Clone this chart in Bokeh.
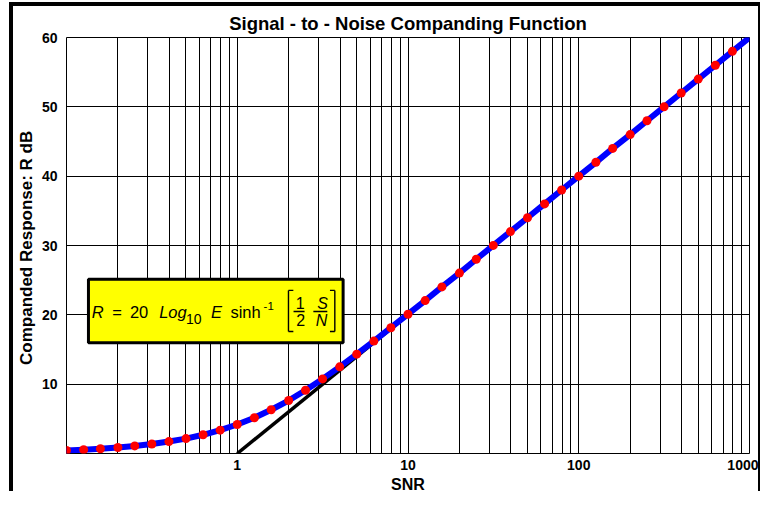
from bokeh.plotting import figure
from bokeh.models import Range1d, FixedTicker, Label, BoxAnnotation, Arrow
from bokeh.embed import file_html
from bokeh.resources import INLINE

# ---- data ----
SNR = [0.1, 0.126, 0.158, 0.2, 0.251, 0.316, 0.398, 0.501, 0.631, 0.794,
       1, 1.26, 1.58, 2.0, 2.51, 3.16, 3.98, 5.01, 6.31, 7.94,
       10, 12.6, 15.8, 20.0, 25.1, 31.6, 39.8, 50.1, 63.1, 79.4,
       100, 126, 158, 200, 251, 316, 398, 501, 631, 794, 1000]
R_DB = [0.43, 0.55, 0.69, 0.87, 1.09, 1.37, 1.72, 2.15, 2.70, 3.37,
        4.18, 5.16, 6.31, 7.64, 9.13, 10.76, 12.50, 14.33, 16.21, 18.14,
        20.09, 22.05, 24.03, 26.02, 28.01, 30.01, 32.01, 34.00, 36.00, 38.00,
        40.00, 42.00, 44.00, 46.00, 48.00, 50.00, 52.00, 54.00, 56.00, 58.00, 60.00]
DOT_SNR = SNR[:-1]
DOT_DB = R_DB[:-1]
ASYM_SNR = [1, 1000]
ASYM_DB = [0, 60]

XTICKS = [0.1, 1, 10, 100, 1000]
XTICK_LABELS = ["", "1", "10", "100", "1000"]
YTICKS = [0, 10, 20, 30, 40, 50, 60]
YTICK_LABELS = ["", "10", "20", "30", "40", "50", "60"]
X_MINOR = [m * 10 ** e for e in range(-1, 3) for m in range(2, 10)]

FONT = "Liberation Sans"

p = figure(width=751, height=489, x_axis_type="log",
           x_range=Range1d(0.1, 1000), y_range=Range1d(0, 60),
           output_backend="svg", toolbar_location=None,
           min_border_left=52, min_border_right=15,
           min_border_top=30, min_border_bottom=40)
p.background_fill_color = "white"
p.border_fill_color = "white"
p.outline_line_color = "black"
p.outline_line_width = 1
p.styles = {"margin-left": "9px", "margin-top": "2px",
            "border-top": "4px solid black", "border-left": "4px solid black",
            "border-right": "2px solid black"}

# title
p.title.text = "Signal - to - Noise Companding Function"
p.title.align = "center"
p.title.text_font = FONT
p.title.text_font_size = "18.5px"
p.title.text_font_style = "bold"
p.title.text_color = "black"
p.title.standoff = 8

# axes
p.xaxis.ticker = FixedTicker(ticks=XTICKS)
p.xaxis.major_label_overrides = {t: s for t, s in zip(XTICKS, XTICK_LABELS)}
p.yaxis.ticker = FixedTicker(ticks=YTICKS)
p.yaxis.major_label_overrides = {t: s for t, s in zip(YTICKS, YTICK_LABELS)}
for ax in (p.xaxis, p.yaxis):
    ax.axis_line_color = None
    ax.major_tick_line_color = None
    ax.minor_tick_line_color = None
    ax.major_tick_out = 0
    ax.major_tick_in = 0
    ax.minor_tick_out = 0
    ax.minor_tick_in = 0
    ax.major_label_text_font = FONT
    ax.major_label_text_font_size = "14px"
    ax.major_label_text_font_style = "bold"
    ax.major_label_text_color = "black"
    ax.axis_label_text_font = FONT
    ax.axis_label_text_font_style = "bold"
    ax.axis_label_text_color = "black"
p.xaxis.major_label_standoff = 6
p.yaxis.major_label_standoff = 9
p.xaxis.axis_label = "SNR"
p.xaxis.axis_label_text_font_size = "16px"
p.xaxis.axis_label_standoff = 3
p.yaxis.axis_label = "Companded Response:  R dB"
p.yaxis.axis_label_text_font_size = "17px"
p.yaxis.axis_label_standoff = 3

# grids
p.xgrid.ticker = FixedTicker(ticks=XTICKS, minor_ticks=X_MINOR)
p.xgrid.grid_line_color = "black"
p.xgrid.minor_grid_line_color = "black"
p.xgrid.grid_line_width = 1
p.xgrid.minor_grid_line_width = 1
p.ygrid.ticker = FixedTicker(ticks=YTICKS)
p.ygrid.grid_line_color = "black"
p.ygrid.grid_line_width = 1

# data
p.line(ASYM_SNR, ASYM_DB, line_color="black", line_width=3.5)
p.line(SNR, R_DB, line_color="#0000FF", line_width=6, line_cap="round", line_join="round")
p.scatter(DOT_SNR, DOT_DB, size=9, fill_color="#FF0000", line_color=None)

# reference-pixel -> data helpers for decorations
def rx(px):
    return 10 ** (-1 + (px - 65) / 175.0)

def ry(py):
    return (464.5 - py) / 7.15

# yellow formula box
p.add_layout(BoxAnnotation(left=rx(87.5), right=rx(348.5), top=ry(284.8), bottom=ry(350.2),
                           fill_color="#FFFF00", fill_alpha=1.0,
                           line_color="black", line_width=3, line_alpha=1.0))

def lab(px, py, txt, size=16.5, style="normal", align="left"):
    p.add_layout(Label(x=rx(px), y=ry(py), text=txt, text_align=align,
                       text_baseline="alphabetic", y_offset=0.35 * size,
                       text_font=FONT, text_font_size=f"{size}px",
                       text_font_style=style, text_color="black"))

lab(91, 325, "R", style="italic")
lab(112, 325, "=")
lab(130, 325, "20")
lab(160, 325, "Log", style="italic")
lab(187.5, 330.7, "10", size=14)
lab(213, 325, "E", style="italic")
lab(233, 325, "sinh")
lab(267, 316.7, "-1", size=11.5)
lab(304.5, 315.3, "1", size=16, align="center")
lab(305, 333, "2", size=16, align="center")
lab(327.5, 316, "S", size=16, style="italic", align="center")
lab(326.5, 333, "N", size=16, style="italic", align="center")

def seg(x0, y0, x1, y1, w=1.4):
    p.add_layout(Arrow(end=None, x_start=rx(x0), y_start=ry(y0), x_end=rx(x1), y_end=ry(y1),
                       line_color="black", line_width=w))

seg(297.7, 318, 309, 318)
seg(318, 318, 332.3, 318)
seg(292.5, 296.3, 292.5, 338.7)
seg(292.5, 296.3, 297.5, 296.3)
seg(292.5, 338.7, 297.5, 338.7)
seg(340, 296.3, 340, 338.7)
seg(335, 296.3, 340, 296.3)
seg(335, 338.7, 340, 338.7)

open("out.html", "w").write(file_html(p, INLINE))
